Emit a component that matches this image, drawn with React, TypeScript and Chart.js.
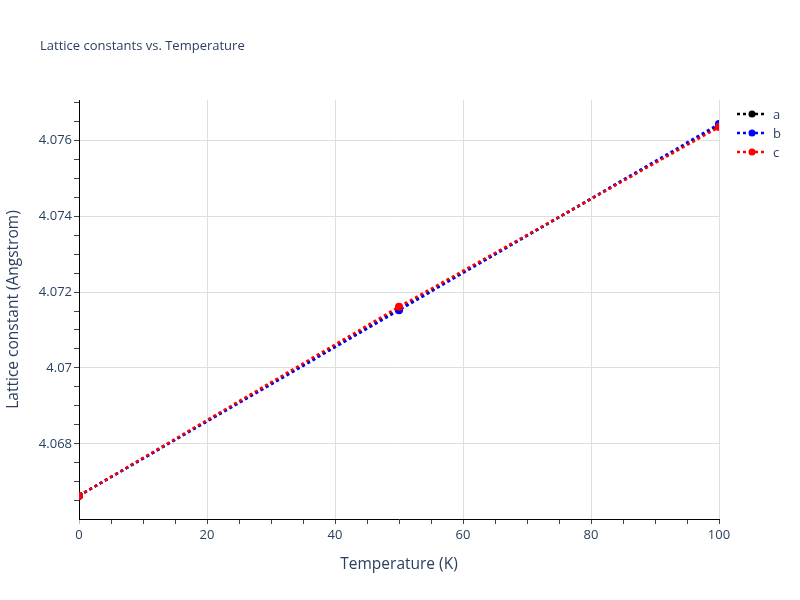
import { useEffect, useRef } from "react";
import { Chart, registerables } from "chart.js";

Chart.register(...registerables);

// Temperaturas (K) e constantes de rede (Angstrom)
const temperatures = [0, 50, 100];
const latticeA = [4.06664, 4.07155, 4.07638];
const latticeB = [4.06664, 4.07152, 4.07642];
const latticeC = [4.06664, 4.07161, 4.07634];

const seriesNames = ["a", "b", "c"];
const seriesColors = ["#000000", "#0000ff", "#ff0000"];

const textColor = "#2a3f5f";
const gridColor = "#dedede";

const isMultiple = (v: number, step: number) =>
  Math.abs(v / step - Math.round(v / step)) < 1e-6;

// Legenda desenhada à mão, fora da área do gráfico
const legendPlugin = {
  id: "sideLegend",
  afterDraw(chart: Chart) {
    const ctx = chart.ctx;
    ctx.save();
    chart.data.datasets.forEach((ds: any, i: number) => {
      const y = 114 + i * 19;
      ctx.strokeStyle = ds.borderColor;
      ctx.lineWidth = 2.5;
      ctx.setLineDash([3, 3]);
      ctx.beginPath();
      ctx.moveTo(737, y);
      ctx.lineTo(767, y);
      ctx.stroke();
      ctx.setLineDash([]);
      ctx.fillStyle = ds.borderColor;
      ctx.beginPath();
      ctx.arc(752, y, 3.5, 0, Math.PI * 2);
      ctx.fill();
      ctx.fillStyle = textColor;
      ctx.font = "13px 'Open Sans'";
      ctx.textBaseline = "middle";
      ctx.textAlign = "left";
      ctx.fillText(ds.label, 773, y + 1);
    });
    ctx.font = "13px 'Open Sans'";
    ctx.fillStyle = textColor;
    ctx.textBaseline = "middle";
    ctx.fillText("Lattice constants vs. Temperature", 40, 46);
    ctx.restore();
  },
};

export default function App() {
  const chartRef = useRef<HTMLCanvasElement>(null);
  const chartInstance = useRef<Chart | null>(null);

  useEffect(() => {
    document.body.style.margin = "0";
    const canvas = chartRef.current;
    if (!canvas) return;

    const series = [latticeA, latticeB, latticeC];

    chartInstance.current = new Chart(canvas, {
      type: "line",
      data: {
        datasets: series.map((values, i) => ({
          label: seriesNames[i],
          data: temperatures.map((t, j) => ({ x: t, y: values[j] })),
          borderColor: seriesColors[i],
          backgroundColor: seriesColors[i],
          borderWidth: 2.5,
          borderDash: [3, 3],
          pointRadius: 4,
          pointBorderWidth: 0,
          pointHoverRadius: 4,
          clip: 0,
          // a por baixo, c por cima
          order: series.length - 1 - i,
        })),
      },
      plugins: [legendPlugin],
      options: {
        animation: false,
        responsive: false,
        layout: { padding: { top: 100, right: 81, left: 0, bottom: 0 } },
        plugins: {
          legend: { display: false },
          tooltip: { enabled: false },
        },
        scales: {
          x: {
            type: "linear",
            min: 0,
            max: 100,
            afterFit: (scale: any) => {
              scale.height = 81;
            },
            border: { color: "#000", width: 1 },
            grid: {
              color: (c: any) =>
                isMultiple(c.tick.value, 20) && c.tick.value > 0 ? gridColor : "transparent",
              tickColor: (c: any) => (c.tick.value === 0 ? "#bbb" : "#444"),
              tickLength: 5,
              drawTicks: true,
            },
            ticks: {
              stepSize: 5,
              autoSkip: false,
              maxRotation: 0,
              includeBounds: false,
              padding: 3,
              color: textColor,
              font: { family: "'Open Sans'", size: 13 },
              callback: (v: any) => (isMultiple(Number(v), 20) ? String(v) : ""),
            },
            title: {
              display: true,
              text: "Temperature (K)",
              color: textColor,
              font: { family: "'Open Sans'", size: 15.5 },
              padding: { top: 0, bottom: 26 },
            },
          },
          y: {
            type: "linear",
            min: 4.066026,
            max: 4.077053,
            afterFit: (scale: any) => {
              scale.width = 79;
            },
            border: { color: "#000", width: 1 },
            grid: {
              color: (c: any) =>
                isMultiple(c.tick.value, 0.002) ? gridColor : "transparent",
              tickColor: "#444",
              tickLength: 5,
            },
            ticks: {
              stepSize: 0.0005,
              autoSkip: false,
              includeBounds: false,
              padding: 2,
              color: textColor,
              font: { family: "'Open Sans'", size: 13 },
              callback: (v: any) =>
                isMultiple(Number(v), 0.002) ? String(Number(Number(v).toFixed(3))) : "",
            },
            title: {
              display: true,
              text: "Lattice constant (Angstrom)",
              color: textColor,
              font: { family: "'Open Sans'", size: 15.5 },
              padding: { top: 4, bottom: 0 },
            },
          },
        },
      },
    });

    return () => {
      if (chartInstance.current) {
        chartInstance.current.destroy();
        chartInstance.current = null;
      }
    };
  }, []);

  return (
    <div style={{ width: 800, height: 600 }}>
      <canvas ref={chartRef} width={800} height={600} />
    </div>
  );
}
